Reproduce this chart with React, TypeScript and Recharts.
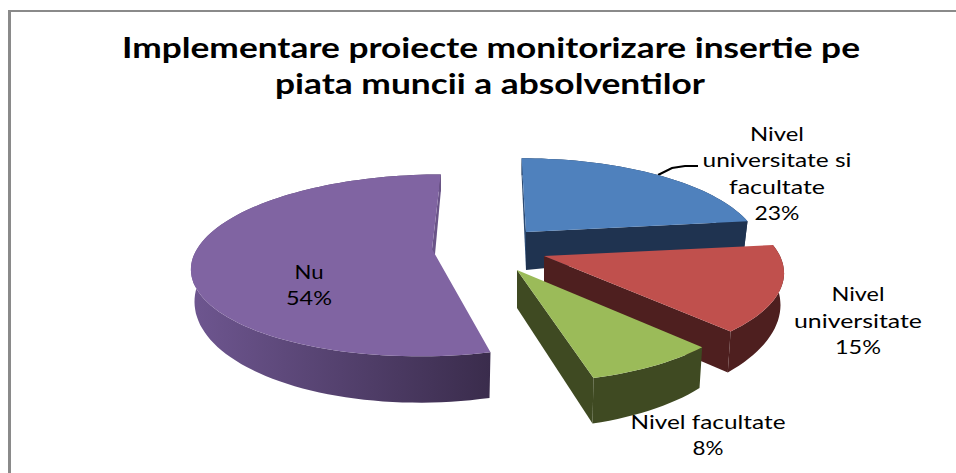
import React from 'react';
import { PieChart, Pie } from 'recharts';

const CATEGORIES = ['Nivel universitate si facultate', 'Nivel universitate', 'Nivel facultate', 'Nu'];
const VALUES = [23, 15, 8, 54];
const TITLE_LINES = ['Implementare proiecte monitorizare insertie pe', 'piata muncii a absolventilor'];
const LABEL_LINES = [
  ['Nivel', 'universitate si', 'facultate'],
  ['Nivel', 'universitate'],
  ['Nivel facultate'],
  ['Nu'],
];

const chartData = CATEGORIES.map((name, i) => ({ name, value: VALUES[i] }));

// 3d look of each exploded slice: apex, radii, vanishing x and the colours
const SLICE_LOOK = [
  { cx: 526, cy: 232, rx: 229, ry: 87, vx: 497, top: '#4f81bd', wall: '#1f3350', startFill: '#2b4a72', endFill: '#1f3350' },
  { cx: 544, cy: 256, rx: 236, ry: 90, vx: 540, top: '#c0504d', wall: '#4e1f1f', startFill: '', endFill: '#4e1f1f' },
  { cx: 517, cy: 270, rx: 228, ry: 92, vx: 480, top: '#9bbb59', wall: '#3f4a22', startFill: '', endFill: '#3f4a22' },
  { cx: 432, cy: 249, rx: 235, ry: 88, vx: 490, top: '#8064a2', wall: 'url(#wallNu)', startFill: '', endFill: '#6a5488' },
];
const LABEL_SPOTS = [
  { x: 777, y: 141, gap: 26.3, widths: [54, 149, 96, 45] },
  { x: 858, y: 301, gap: 26.5, widths: [53, 128, 46] },
  { x: 708, y: 429, gap: 26, widths: [155, 31] },
  { x: 309, y: 279, gap: 26, widths: [29, 46] },
];
const APEX_DROP = 38;
const PERSPECTIVE = 0.18;

function projectPoint(look: any, deg: number, drop: number, radial = 1, inset = 1) {
  const rad = (deg * Math.PI) / 180;
  const u = Math.cos(rad) * radial;
  const v = -Math.sin(rad) * radial;
  const s = 1 / (1 - PERSPECTIVE * v);
  return {
    x: look.vx + (look.cx - look.vx + look.rx * inset * u) * s,
    y: look.cy + look.ry * v * s + drop * s,
  };
}

// the wall gets taller towards the viewer
function rimLow(look: any, deg: number) {
  const v = -Math.sin((deg * Math.PI) / 180);
  return projectPoint(look, deg, 29 + 9 * v, 1, 0.985);
}

function toPath(points: { x: number; y: number }[]) {
  return points.map((p, i) => `${i ? 'L' : 'M'}${p.x.toFixed(1)} ${p.y.toFixed(1)}`).join(' ') + ' Z';
}

function SliceShape(props: any) {
  const { startAngle, endAngle, index } = props;
  const look = SLICE_LOOK[index];
  const steps = Math.max(8, Math.ceil(Math.abs(endAngle - startAngle) / 2));
  const rim: number[] = [];
  for (let i = 0; i <= steps; i++) rim.push(startAngle + ((endAngle - startAngle) * i) / steps);

  const apex = projectPoint(look, 0, 0, 0);
  const apexLow = projectPoint(look, 0, APEX_DROP, 0);
  const face = (deg: number) => toPath([apex, projectPoint(look, deg, 0), rimLow(look, deg), apexLow]);
  const wall = toPath([
    ...rim.map((d) => projectPoint(look, d, 0)),
    ...rim.slice().reverse().map((d) => rimLow(look, d)),
  ]);
  const topFace = toPath([apex, ...rim.map((d) => projectPoint(look, d, 0))]);

  return (
    <g>
      <path d={wall} fill={look.wall} />
      {look.startFill && <path d={face(startAngle)} fill={look.startFill} />}
      <path d={face(endAngle)} fill={look.endFill} />
      <path d={topFace} fill={look.top} />
    </g>
  );
}

function SliceLabel(props: any) {
  const { index, value } = props;
  const spot = LABEL_SPOTS[index];
  const lines = [...LABEL_LINES[index], `${value}%`];
  return (
    <text fontFamily="Lato" fontSize={19} fill="#000" textAnchor="middle">
      {lines.map((line, i) => (
        <tspan
          key={line}
          x={spot.x}
          y={spot.y + i * spot.gap}
          textLength={spot.widths[i]}
          lengthAdjust="spacingAndGlyphs"
        >
          {line}
        </tspan>
      ))}
    </text>
  );
}

export default function App() {
  return (
    <div style={{ position: 'absolute', left: 0, top: 0, width: 956, height: 473, background: '#fff', overflow: 'hidden' }}>
      <div style={{ position: 'absolute', left: 8, top: 10, width: 3, height: 463, background: '#8a8a8a' }} />
      <div style={{ position: 'absolute', left: 8, top: 10, width: 948, height: 2, background: '#8a8a8a' }} />
      <div style={{ position: 'absolute', left: 0, top: 0 }}>
        <PieChart width={956} height={473}>
          <defs>
            <linearGradient id="wallNu" x1="0" y1="0" x2="1" y2="0">
              <stop offset="0%" stopColor="#6e5690" />
              <stop offset="100%" stopColor="#3a2c4c" />
            </linearGradient>
          </defs>
          <text fontFamily="Lato" fontWeight={700} fontSize={28} fill="#000">
            <tspan x={122} y={58} textLength={738} lengthAdjust="spacingAndGlyphs">
              {TITLE_LINES[0]}
            </tspan>
            <tspan x={275} y={94} textLength={430} lengthAdjust="spacingAndGlyphs">
              {TITLE_LINES[1]}
            </tspan>
          </text>
          <polyline points="658,175 672,168 685,166 698,166" fill="none" stroke="#000" strokeWidth={2} />
          <Pie
            data={chartData}
            dataKey="value"
            nameKey="name"
            cx={480}
            cy={260}
            outerRadius={200}
            startAngle={90}
            endAngle={-270}
            stroke="none"
            shape={SliceShape}
            label={SliceLabel}
            labelLine={false}
            isAnimationActive={false}
          />
        </PieChart>
      </div>
    </div>
  );
}
